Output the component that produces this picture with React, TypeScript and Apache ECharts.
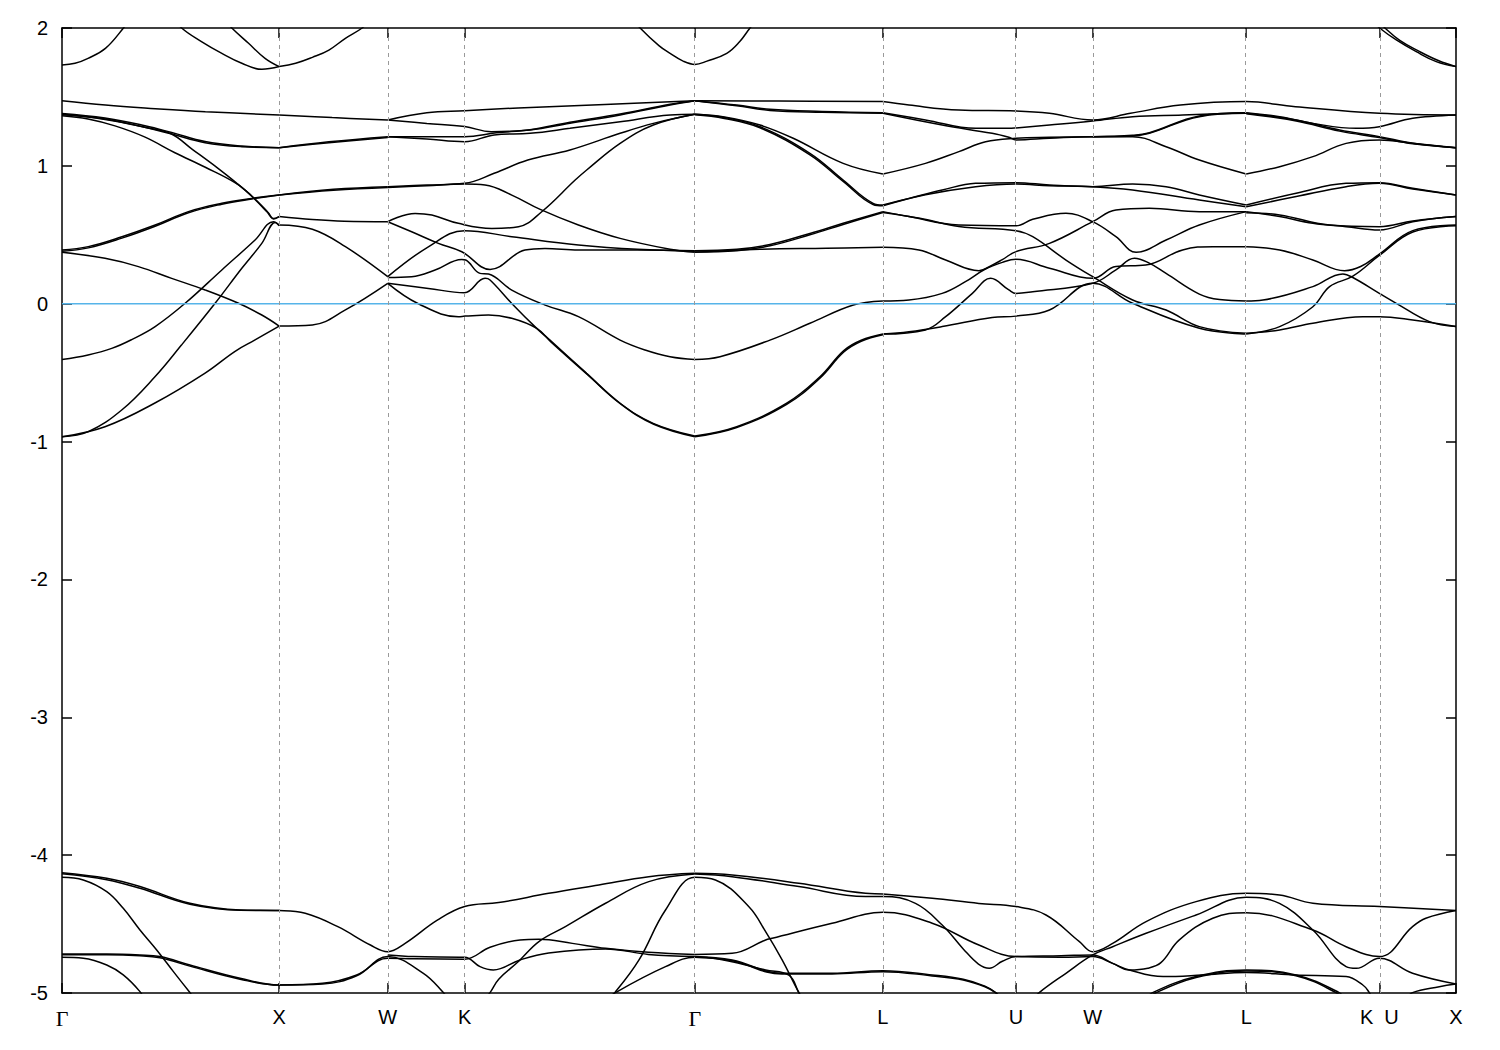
import React, { useEffect, useRef } from "react";
import * as echarts from "echarts";

type Pt = [number, number];

// High-symmetry k-points (path length, Γ–X = 1)
const symPoints = [0, 1, 1.5, 1.854, 2.914, 3.78, 4.393, 4.746, 5.453, 6.066, 6.419];
const symLabels = ["Γ", "X", "W", "K", "Γ", "L", "U", "W", "L", "K  U", "X"];

// ---- Upper bands (near the Fermi level), grouped by the segment they start in ----
const upperGX: Pt[][] = [
  [[0, 1.731], [0.06, 1.744], [0.12, 1.78], [0.2, 1.852], [0.283, 2.0], [0.33, 2.1]],
  [[0.5, 2.1], [0.551, 2.0], [0.644, 1.9], [0.736, 1.816], [0.828, 1.744], [0.92, 1.7], [1.0, 1.72]],
  [[0.75, 2.06], [0.782, 2.0], [0.859, 1.889], [0.935, 1.78], [1.0, 1.72]],
  [[0, 1.473], [0.2, 1.441], [0.43, 1.415], [0.66, 1.393], [1.0, 1.369]],
  [[0, 1.374], [0.198, 1.337], [0.382, 1.28], [0.505, 1.231], [0.659, 1.168], [0.828, 1.139], [1.0, 1.132]],
  [[0, 1.38], [0.198, 1.347], [0.382, 1.291], [0.505, 1.242], [0.659, 1.176], [0.828, 1.144], [1.0, 1.132]],
  [[0, 1.364], [0.12, 1.34], [0.244, 1.29], [0.38, 1.21], [0.52, 1.095], [0.66, 0.99], [0.8, 0.875], [0.875, 0.78], [0.95, 0.66], [0.975, 0.615], [1.0, 0.632]],
  [[0, 1.37], [0.2, 1.34], [0.38, 1.28], [0.5, 1.235], [0.6, 1.12], [0.72, 0.98], [0.8, 0.88], [0.87, 0.785], [0.945, 0.665], [0.972, 0.618], [1.0, 0.632]],
  [[0, 0.39], [0.121, 0.414], [0.276, 0.486], [0.429, 0.571], [0.582, 0.668], [0.736, 0.728], [0.874, 0.764], [1.0, 0.789]],
  [[0, 0.38], [0.121, 0.405], [0.276, 0.476], [0.429, 0.562], [0.582, 0.66], [0.736, 0.722], [0.874, 0.76], [1.0, 0.789]],
  [[0, 0.373], [0.198, 0.329], [0.352, 0.269], [0.505, 0.184], [0.659, 0.1], [0.813, 0.003], [0.92, -0.082], [1.0, -0.162]],
  [[0, -0.405], [0.12, -0.372], [0.229, -0.324], [0.321, -0.26], [0.429, -0.166], [0.567, 0.003], [0.736, 0.245], [0.889, 0.462], [0.974, 0.595], [1.0, 0.571]],
  [[0, -0.965], [0.121, -0.928], [0.275, -0.771], [0.428, -0.53], [0.55, -0.3], [0.705, 0.003], [0.828, 0.257], [0.92, 0.438], [0.982, 0.59], [1.0, 0.566]],
  [[0, -0.965], [0.198, -0.892], [0.428, -0.72], [0.659, -0.503], [0.797, -0.345], [0.889, -0.263], [1.0, -0.162]],
];

const upperXW: Pt[][] = [
  [[1.0, 1.72], [1.076, 1.744], [1.153, 1.787], [1.229, 1.84], [1.305, 1.925], [1.382, 2.0], [1.42, 2.06]],
  [[1.0, 1.369], [1.244, 1.35], [1.5, 1.333]],
  [[1.0, 1.132], [1.229, 1.175], [1.5, 1.212]],
  [[1.0, 1.132], [1.229, 1.168], [1.5, 1.206]],
  [[1.0, 0.789], [1.25, 0.83], [1.5, 0.849]],
  [[1.0, 0.789], [1.25, 0.823], [1.5, 0.843]],
  [[1.0, 0.632], [1.153, 0.61], [1.3, 0.598], [1.5, 0.595]],
  [[1.0, 0.571], [1.153, 0.54], [1.305, 0.414], [1.5, 0.196]],
  [[1.0, -0.162], [1.153, -0.154], [1.305, -0.045], [1.5, 0.148]],
];

const upperWK: Pt[][] = [
  [[1.5, 1.333], [1.68, 1.385], [1.854, 1.4], [2.1, 1.42], [2.5, 1.445], [2.914, 1.473]],
  [[1.5, 1.333], [1.68, 1.308], [1.854, 1.285], [1.977, 1.248], [2.155, 1.26], [2.339, 1.309], [2.57, 1.369], [2.8, 1.442], [2.914, 1.473]],
  [[1.5, 1.212], [1.68, 1.212], [1.854, 1.212], [2.0, 1.24], [2.155, 1.262], [2.339, 1.316], [2.57, 1.376], [2.8, 1.447], [2.914, 1.473]],
  [[1.5, 1.212], [1.68, 1.195], [1.854, 1.175], [1.99, 1.224], [2.155, 1.236], [2.339, 1.272], [2.57, 1.32], [2.8, 1.369], [2.914, 1.374]],
  [[1.5, 0.849], [1.68, 0.861], [1.854, 0.873], [1.99, 0.946], [2.145, 1.042], [2.339, 1.115], [2.57, 1.236], [2.723, 1.308], [2.914, 1.374]],
  [[1.5, 0.843], [1.68, 0.856], [1.854, 0.868], [1.948, 0.861], [2.071, 0.788], [2.202, 0.684], [2.378, 0.571], [2.57, 0.474], [2.8, 0.395], [2.914, 0.373]],
  [[1.5, 0.595], [1.626, 0.655], [1.703, 0.643], [1.825, 0.583], [1.979, 0.546], [2.102, 0.558], [2.209, 0.667], [2.363, 0.897], [2.416, 0.97], [2.57, 1.163], [2.723, 1.296], [2.914, 1.374]],
  [[1.5, 0.595], [1.61, 0.522], [1.733, 0.438], [1.841, 0.377], [1.971, 0.249], [2.132, 0.389], [2.224, 0.401], [2.378, 0.389], [2.65, 0.39], [2.914, 0.38]],
  [[1.5, 0.196], [1.687, 0.413], [1.854, 0.53], [2.071, 0.486], [2.378, 0.426], [2.65, 0.395], [2.914, 0.385]],
  [[1.5, 0.19], [1.61, 0.196], [1.718, 0.244], [1.841, 0.321], [1.859, 0.317], [1.925, 0.22], [1.964, 0.215], [2.071, 0.099], [2.225, -0.01], [2.378, -0.094], [2.57, -0.264], [2.685, -0.336], [2.8, -0.385], [2.914, -0.405]],
  [[1.5, 0.148], [1.687, 0.111], [1.853, 0.08], [1.948, 0.184], [1.971, 0.172], [2.071, 0.002], [2.186, -0.179], [2.247, -0.264], [2.416, -0.505], [2.57, -0.722], [2.722, -0.868], [2.914, -0.96]],
  [[1.5, 0.148], [1.641, 0.0], [1.825, -0.094], [1.856, -0.09], [1.964, -0.082], [2.071, -0.106], [2.186, -0.179], [2.25, -0.275], [2.42, -0.515], [2.575, -0.73], [2.725, -0.874], [2.914, -0.965]],
];

const upperGL: Pt[][] = [
  [[2.62, 2.08], [2.662, 2.0], [2.75, 1.87], [2.8, 1.816], [2.86, 1.76], [2.914, 1.736], [2.97, 1.76], [3.061, 1.816], [3.12, 1.9], [3.168, 2.0], [3.2, 2.06]],
  [[2.914, 1.473], [3.3, 1.47], [3.78, 1.466]],
  [[2.914, 1.473], [3.107, 1.441], [3.26, 1.41], [3.5, 1.395], [3.78, 1.386]],
  [[2.914, 1.473], [3.107, 1.436], [3.26, 1.402], [3.5, 1.388], [3.78, 1.381]],
  [[2.914, 1.374], [3.05, 1.355], [3.214, 1.296], [3.367, 1.2], [3.597, 1.018], [3.78, 0.941]],
  [[2.914, 1.374], [3.05, 1.35], [3.214, 1.284], [3.444, 1.091], [3.597, 0.897], [3.735, 0.728], [3.78, 0.716]],
  [[2.914, 1.37], [3.05, 1.344], [3.214, 1.276], [3.444, 1.08], [3.597, 0.887], [3.735, 0.72], [3.78, 0.71]],
  [[2.914, 0.385], [3.107, 0.395], [3.26, 0.43], [3.444, 0.51], [3.597, 0.583], [3.78, 0.668]],
  [[2.914, 0.375], [3.107, 0.385], [3.26, 0.42], [3.444, 0.5], [3.597, 0.575], [3.78, 0.662]],
  [[2.914, 0.373], [3.214, 0.395], [3.52, 0.402], [3.78, 0.409]],
  [[2.914, -0.405], [3.03, -0.384], [3.26, -0.264], [3.444, -0.142], [3.644, -0.009], [3.78, 0.02]],
  [[2.914, -0.96], [3.107, -0.892], [3.337, -0.722], [3.49, -0.53], [3.6, -0.34], [3.68, -0.265], [3.78, -0.22]],
  [[2.914, -0.965], [3.107, -0.898], [3.337, -0.73], [3.49, -0.54], [3.6, -0.35], [3.68, -0.272], [3.78, -0.225]],
];

const upperLUWL: Pt[][] = [
  [[3.78, 1.466], [3.9, 1.441], [4.13, 1.405], [4.393, 1.398], [4.547, 1.381], [4.746, 1.333], [4.92, 1.381], [5.15, 1.441], [5.453, 1.466], [5.68, 1.429], [6.066, 1.381], [6.419, 1.369]],
  [[3.78, 1.386], [3.976, 1.333], [4.207, 1.272], [4.36, 1.272], [4.393, 1.275], [4.547, 1.296], [4.746, 1.325], [4.93, 1.357], [5.16, 1.369], [5.453, 1.386]],
  [[3.78, 1.381], [4.053, 1.296], [4.283, 1.236], [4.36, 1.207], [4.393, 1.188], [4.547, 1.2], [4.746, 1.212], [4.93, 1.212], [5.084, 1.139], [5.237, 1.042], [5.453, 0.941]],
  [[3.78, 0.941], [3.976, 1.018], [4.13, 1.103], [4.253, 1.175], [4.393, 1.2], [4.547, 1.207], [4.746, 1.212], [4.93, 1.217], [5.007, 1.236], [5.237, 1.357], [5.453, 1.381]],
  [[4.746, 1.212], [4.93, 1.222], [5.007, 1.24], [5.237, 1.362], [5.453, 1.386]],
  [[3.78, 0.716], [3.9, 0.764], [4.053, 0.825], [4.207, 0.873], [4.393, 0.878], [4.547, 0.861], [4.746, 0.849], [4.93, 0.868], [5.084, 0.849], [5.237, 0.789], [5.453, 0.716]],
  [[3.78, 0.71], [3.976, 0.79], [4.207, 0.849], [4.393, 0.868], [4.547, 0.856], [4.746, 0.849], [4.93, 0.825], [5.237, 0.752], [5.453, 0.704]],
  [[3.78, 0.668], [3.9, 0.632], [4.13, 0.571], [4.393, 0.565], [4.47, 0.612], [4.623, 0.656], [4.746, 0.595], [4.853, 0.486], [4.946, 0.373], [5.084, 0.462], [5.237, 0.571], [5.453, 0.668]],
  [[3.78, 0.662], [3.95, 0.62], [4.13, 0.56], [4.393, 0.53], [4.47, 0.486], [4.623, 0.317], [4.746, 0.196], [4.93, 0.027], [5.084, -0.046], [5.237, -0.166], [5.453, -0.215]],
  [[3.78, 0.409], [3.946, 0.39], [4.069, 0.317], [4.222, 0.24], [4.283, 0.28], [4.33, 0.32], [4.393, 0.378], [4.547, 0.438], [4.746, 0.595], [4.853, 0.68], [5.007, 0.692], [5.237, 0.668], [5.453, 0.668]],
  [[3.78, 0.02], [3.9, 0.027], [4.053, 0.075], [4.16, 0.16], [4.25, 0.25], [4.33, 0.3], [4.393, 0.322], [4.547, 0.257], [4.746, 0.184], [4.853, 0.27], [4.99, 0.28], [5.16, 0.39], [5.3, 0.414], [5.453, 0.414]],
  [[3.78, -0.22], [3.976, -0.19], [4.069, -0.094], [4.192, 0.075], [4.276, 0.184], [4.36, 0.1], [4.393, 0.075], [4.47, 0.087], [4.746, 0.148], [4.853, 0.245], [4.938, 0.33], [5.0, 0.3], [5.084, 0.22], [5.237, 0.07], [5.33, 0.03], [5.453, 0.02]],
  [[3.78, -0.22], [3.9, -0.203], [4.053, -0.166], [4.283, -0.1], [4.393, -0.09], [4.547, -0.046], [4.746, 0.148], [4.93, 0.003], [5.237, -0.178], [5.453, -0.22]],
];

const upperLKX: Pt[][] = [
  [[5.453, 1.386], [5.607, 1.357], [5.76, 1.308], [5.96, 1.272], [6.066, 1.284], [6.22, 1.345], [6.419, 1.369]],
  [[5.453, 1.381], [5.683, 1.333], [5.883, 1.26], [6.066, 1.212], [6.22, 1.164], [6.419, 1.132]],
  [[5.453, 1.378], [5.683, 1.326], [5.883, 1.252], [6.066, 1.205], [6.22, 1.16], [6.419, 1.132]],
  [[5.453, 0.941], [5.607, 0.994], [5.76, 1.067], [5.913, 1.163], [6.066, 1.188], [6.22, 1.164], [6.419, 1.132]],
  [[5.453, 0.716], [5.683, 0.801], [5.913, 0.873], [6.066, 0.878], [6.22, 0.837], [6.419, 0.789]],
  [[5.453, 0.704], [5.683, 0.777], [5.913, 0.849], [6.066, 0.873], [6.22, 0.832], [6.419, 0.789]],
  [[5.453, 0.668], [5.607, 0.632], [5.76, 0.583], [5.913, 0.559], [6.066, 0.535], [6.22, 0.595], [6.419, 0.632]],
  [[5.453, 0.66], [5.607, 0.644], [5.837, 0.571], [6.066, 0.559], [6.22, 0.6], [6.419, 0.632]],
  [[5.453, 0.414], [5.607, 0.39], [5.76, 0.317], [5.906, 0.24], [5.98, 0.27], [6.066, 0.36], [6.22, 0.53], [6.419, 0.571]],
  [[5.453, 0.02], [5.53, 0.027], [5.76, 0.124], [5.898, 0.216], [5.944, 0.19], [6.066, 0.075], [6.144, 0.003], [6.297, -0.13], [6.419, -0.166]],
  [[5.453, -0.22], [5.607, -0.166], [5.76, -0.022], [5.837, 0.124], [5.944, 0.2], [6.066, 0.35], [6.22, 0.52], [6.419, 0.565]],
  [[5.453, -0.215], [5.607, -0.19], [5.76, -0.142], [5.99, -0.094], [6.066, -0.094], [6.22, -0.118], [6.419, -0.166]],
  [[6.05, 2.03], [6.067, 2.0], [6.144, 1.913], [6.236, 1.828], [6.328, 1.756], [6.419, 1.72]],
  [[6.075, 2.03], [6.092, 2.0], [6.16, 1.91], [6.25, 1.83], [6.34, 1.762], [6.419, 1.72]],
];

// ---- Lower bands (around -4 to -5 eV) ----
const lowerGK: Pt[][] = [
  [[0, -4.127], [0.206, -4.168], [0.359, -4.228], [0.589, -4.349], [0.82, -4.398], [1.0, -4.402], [1.12, -4.422], [1.27, -4.519], [1.42, -4.652], [1.5, -4.7], [1.58, -4.64], [1.73, -4.47], [1.854, -4.373], [2.011, -4.344], [2.241, -4.277], [2.472, -4.216], [2.702, -4.156], [2.914, -4.132]],
  [[0, -4.135], [0.206, -4.178], [0.359, -4.24], [0.589, -4.356], [0.82, -4.4], [1.0, -4.402]],
  [[0, -4.161], [0.098, -4.18], [0.206, -4.265], [0.282, -4.386], [0.359, -4.543], [0.436, -4.688], [0.513, -4.845], [0.589, -4.997], [0.62, -5.06]],
  [[0, -4.717], [0.206, -4.717], [0.359, -4.724], [0.451, -4.736], [0.589, -4.797], [0.82, -4.893], [1.0, -4.942], [1.2, -4.93], [1.357, -4.869], [1.5, -4.748], [1.62, -4.752], [1.854, -4.755], [1.971, -4.668], [2.109, -4.615], [2.196, -4.61], [2.35, -4.64], [2.503, -4.676], [2.7, -4.705], [2.914, -4.72]],
  [[0, -4.723], [0.206, -4.723], [0.359, -4.73], [0.451, -4.745], [0.589, -4.805], [0.82, -4.9], [1.0, -4.942], [1.2, -4.935], [1.357, -4.875], [1.5, -4.736], [1.664, -4.857], [1.756, -4.997], [1.78, -5.05]],
  [[0, -4.741], [0.098, -4.748], [0.206, -4.797], [0.282, -4.869], [0.359, -4.99], [0.38, -5.05]],
  [[1.5, -4.724], [1.62, -4.736], [1.854, -4.74], [1.925, -4.809], [1.986, -4.833], [2.109, -4.76], [2.241, -4.71], [2.503, -4.68], [2.7, -4.72], [2.914, -4.735]],
  [[1.95, -5.03], [1.971, -4.997], [2.011, -4.9], [2.103, -4.77], [2.196, -4.627], [2.318, -4.519], [2.503, -4.349], [2.702, -4.192], [2.914, -4.137]],
  [[2.5, -5.06], [2.549, -4.99], [2.657, -4.76], [2.779, -4.398], [2.914, -4.161], [3.009, -4.18], [3.163, -4.374], [3.24, -4.555], [3.316, -4.76], [3.393, -4.997], [3.42, -5.06]],
  [[2.5, -5.06], [2.549, -4.997], [2.779, -4.809], [2.914, -4.741], [3.009, -4.75], [3.24, -4.833], [3.347, -4.87], [3.393, -4.997], [3.41, -5.05]],
];

const lowerGX2: Pt[][] = [
  [[2.914, -4.137], [3.086, -4.156], [3.393, -4.228], [3.7, -4.3], [3.78, -4.3], [3.93, -4.35], [4.053, -4.507], [4.15, -4.68], [4.22, -4.79], [4.27, -4.82], [4.33, -4.77], [4.393, -4.736], [4.6, -4.73], [4.746, -4.724], [4.838, -4.785], [4.915, -4.833], [5.07, -4.881], [5.25, -4.87], [5.453, -4.852], [5.68, -4.869], [5.913, -4.881], [5.99, -4.942], [6.02, -4.997], [6.04, -5.05]],
  [[2.914, -4.132], [3.086, -4.144], [3.393, -4.204], [3.7, -4.277], [3.78, -4.282], [4.007, -4.313], [4.222, -4.35], [4.393, -4.373], [4.531, -4.434], [4.685, -4.627], [4.746, -4.7], [4.838, -4.64], [4.992, -4.482], [5.222, -4.337], [5.453, -4.277], [5.606, -4.289], [5.76, -4.349], [6.066, -4.373], [6.419, -4.402]],
  [[2.914, -4.72], [3.086, -4.712], [3.24, -4.615], [3.27, -4.603], [3.546, -4.494], [3.78, -4.415], [4.007, -4.494], [4.222, -4.652], [4.393, -4.736], [4.6, -4.74], [4.746, -4.736], [4.838, -4.785], [4.915, -4.833], [5.0, -4.82], [5.06, -4.78], [5.145, -4.615], [5.299, -4.458], [5.453, -4.417], [5.76, -4.543], [5.913, -4.664], [6.066, -4.736], [6.219, -4.519], [6.28, -4.458], [6.419, -4.402]],
  [[2.914, -4.735], [3.086, -4.76], [3.316, -4.857], [3.546, -4.857], [3.78, -4.838], [4.007, -4.869], [4.15, -4.9], [4.25, -4.95], [4.3, -4.997], [4.33, -5.05]],
  [[2.914, -4.74], [3.086, -4.766], [3.316, -4.863], [3.546, -4.862], [3.78, -4.845], [4.007, -4.876], [4.15, -4.905], [4.25, -4.955], [4.3, -5.0], [4.33, -5.05]],
  [[4.47, -5.05], [4.5, -4.997], [4.623, -4.857], [4.746, -4.724], [4.838, -4.664], [4.992, -4.567], [5.222, -4.434], [5.453, -4.306], [5.606, -4.35], [5.76, -4.543], [5.913, -4.809], [5.96, -4.821], [6.066, -4.748], [6.219, -4.857], [6.419, -4.935]],
  [[4.99, -5.05], [5.022, -4.997], [5.222, -4.881], [5.453, -4.833], [5.682, -4.869], [5.881, -4.997], [5.91, -5.05]],
  [[5.0, -5.05], [5.035, -5.0], [5.222, -4.888], [5.453, -4.84], [5.682, -4.875], [5.87, -5.0], [5.9, -5.05]],
  [[6.19, -5.05], [6.219, -4.997], [6.342, -4.954], [6.419, -4.935]],
];

const bandGroups: Pt[][][] = [upperGX, upperXW, upperWK, upperGL, upperLUWL, upperLKX, lowerGK, lowerGX2];

export default function App() {
  const ref = useRef<HTMLDivElement>(null);

  useEffect(() => {
    if (!ref.current) return;
    const chart = echarts.init(ref.current, undefined, { renderer: "svg" });

    const labelFor = (v: number) => {
      const i = symPoints.findIndex((p) => Math.abs(p - v) < 1e-6);
      if (i < 0) return "";
      const t = symLabels[i];
      return t === "Γ" ? "{g|Γ}" : t;
    };

    const bandSeries: any[] = [];
    bandGroups.forEach((group) =>
      group.forEach((curve) =>
        bandSeries.push({
          type: "line",
          data: curve,
          showSymbol: false,
          symbol: "none",
          smooth: 0.4,
          lineStyle: { color: "#000000", width: 1.5 },
          z: 3,
          silent: true,
          clip: true,
        })
      )
    );

    const axisLineStyle = { color: "#000000", width: 1.5 };
    const sansFont = "'Liberation Sans', Arial, sans-serif";
    const xMax = symPoints[symPoints.length - 1];

    chart.setOption({
      animation: false,
      backgroundColor: "#ffffff",
      grid: { left: 62, right: 44, top: 28, bottom: 57, containLabel: false },
      xAxis: [
        {
          type: "value",
          position: "bottom",
          min: 0,
          max: xMax,
          axisLine: { show: true, onZero: false, lineStyle: axisLineStyle },
          axisTick: { show: true, inside: true, length: 10, customValues: symPoints, lineStyle: axisLineStyle },
          axisLabel: {
            show: true,
            customValues: symPoints,
            formatter: labelFor,
            color: "#000000",
            fontSize: 20,
            fontFamily: sansFont,
            margin: 14,
            rich: { g: { fontFamily: "'Liberation Serif', 'DejaVu Serif', serif", fontSize: 22, color: "#000000" } },
          },
          splitLine: { show: false },
        },
        {
          type: "value",
          position: "top",
          min: 0,
          max: xMax,
          axisLine: { show: true, onZero: false, lineStyle: axisLineStyle },
          axisTick: { show: true, inside: true, length: 10, customValues: symPoints, lineStyle: axisLineStyle },
          axisLabel: { show: false },
          splitLine: { show: false },
        },
      ],
      yAxis: [
        {
          type: "value",
          position: "left",
          min: -5,
          max: 2,
          interval: 1,
          axisLine: { show: true, onZero: false, lineStyle: axisLineStyle },
          axisTick: { show: true, inside: true, length: 10, lineStyle: axisLineStyle },
          axisLabel: { show: true, color: "#000000", fontSize: 20, fontFamily: sansFont, margin: 14 },
          splitLine: { show: false },
        },
        {
          type: "value",
          position: "right",
          min: -5,
          max: 2,
          interval: 1,
          axisLine: { show: true, onZero: false, lineStyle: axisLineStyle },
          axisTick: { show: true, inside: true, length: 10, lineStyle: axisLineStyle },
          axisLabel: { show: false },
          splitLine: { show: false },
        },
      ],
      series: [
        {
          type: "line",
          data: [[0, -10]],
          showSymbol: false,
          symbol: "none",
          lineStyle: { width: 0 },
          z: 1,
          silent: true,
          markLine: {
            silent: true,
            symbol: ["none", "none"],
            label: { show: false },
            lineStyle: { type: [4, 4], color: "#9a9a9a", width: 1 },
            data: symPoints.slice(1, -1).map((v) => ({ xAxis: v })),
          },
        },
        ...bandSeries,
        {
          type: "line",
          data: [
            [0, 0],
            [xMax, 0],
          ],
          showSymbol: false,
          symbol: "none",
          lineStyle: { color: "#56B4E9", width: 1.6 },
          z: 4,
          silent: true,
        },
      ],
    });

    return () => chart.dispose();
  }, []);

  return (
    <div
      ref={ref}
      style={{ position: "absolute", left: 0, top: 0, width: 1500, height: 1050, background: "#fff" }}
    />
  );
}
